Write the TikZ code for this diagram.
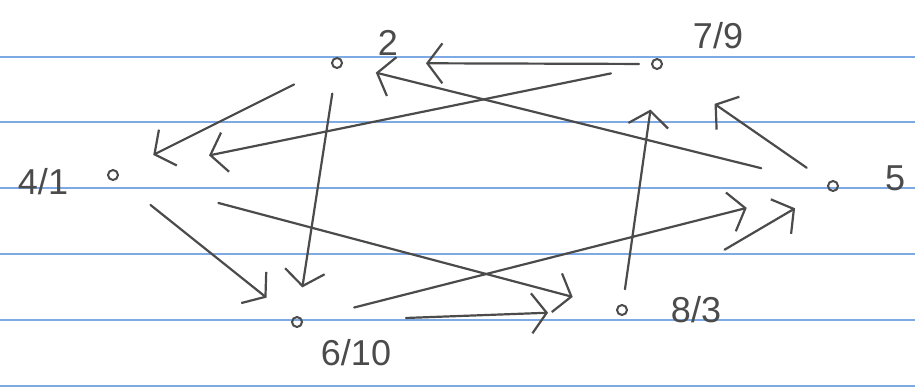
\documentclass[tikz,border=0pt]{standalone}
\usepackage{fontspec}
\setmainfont{Liberation Sans}
\usetikzlibrary{arrows.meta}
\definecolor{pencil}{RGB}{75,75,75}
\definecolor{ruled}{RGB}{125,170,228}
\begin{document}
\begin{tikzpicture}[x=1pt,y=-1pt,
  vert/.style={circle,draw=pencil,line width=2pt,minimum size=10pt,inner sep=0pt},
  lbl/.style={text=pencil,font=\fontsize{36}{36}\selectfont,inner sep=0pt},
  edge/.style={draw=pencil,line width=2.2pt,line cap=round,
    -{Straight Barb[length=15pt,width=40pt,line width=2.2pt]}},
  ruleline/.style={draw=ruled,line width=1.3pt}]
\useasboundingbox (0,0) rectangle (915,391);
\fill[white] (0,0) rectangle (915,391);
% ruled paper
\foreach \yy in {57,122,188,254,320,386}
  \draw[ruleline] (0,\yy) -- (915,\yy);
% vertices
\node[vert] (a) at (113,175) {};
\node[vert] (b) at (337,63) {};
\node[vert] (c) at (657,64) {};
\node[vert] (d) at (833,186) {};
\node[vert] (e) at (297,322) {};
\node[vert] (f) at (622,310) {};
% labels
\node[lbl] (la) at (43,182) {4/1};
\node[lbl] (lb) at (388,43) {2};
\node[lbl] (lc) at (718,36) {7/9};
\node[lbl] (ld) at (895,178) {5};
\node[lbl] (le) at (356,353) {6/10};
\node[lbl] (lf) at (696,310) {8/3};
% edges
\draw[edge, shorten <=12pt, shorten >=83pt] (c) -- (b);
\draw[edge, shorten <=42pt, shorten >=39pt] (b) -- (a);
\draw[edge, shorten <=41pt, shorten >=92pt] (c) -- (a);
\draw[edge, shorten <=68pt, shorten >=34pt] (d) -- (b);
\draw[edge, shorten <=25pt, shorten >=29pt] (b) -- (e);
\draw[edge, shorten <=42pt, shorten >=33pt] (a) -- (e);
\draw[edge, shorten <=103pt, shorten >=45pt] (a) -- (f);
\draw[edge, shorten <=53pt, shorten >=83pt] (e) -- (d);
\draw[edge, shorten <=103pt, shorten >=68pt] (e) -- (f);
\draw[edge, shorten <=15pt, shorten >=40pt] (f) -- (c);
\draw[edge, shorten <=26pt, shorten >=64pt] (d) -- (c);
\draw[edge, shorten <=113pt, shorten >=38pt] (f) -- (d);
\end{tikzpicture}
\end{document}
